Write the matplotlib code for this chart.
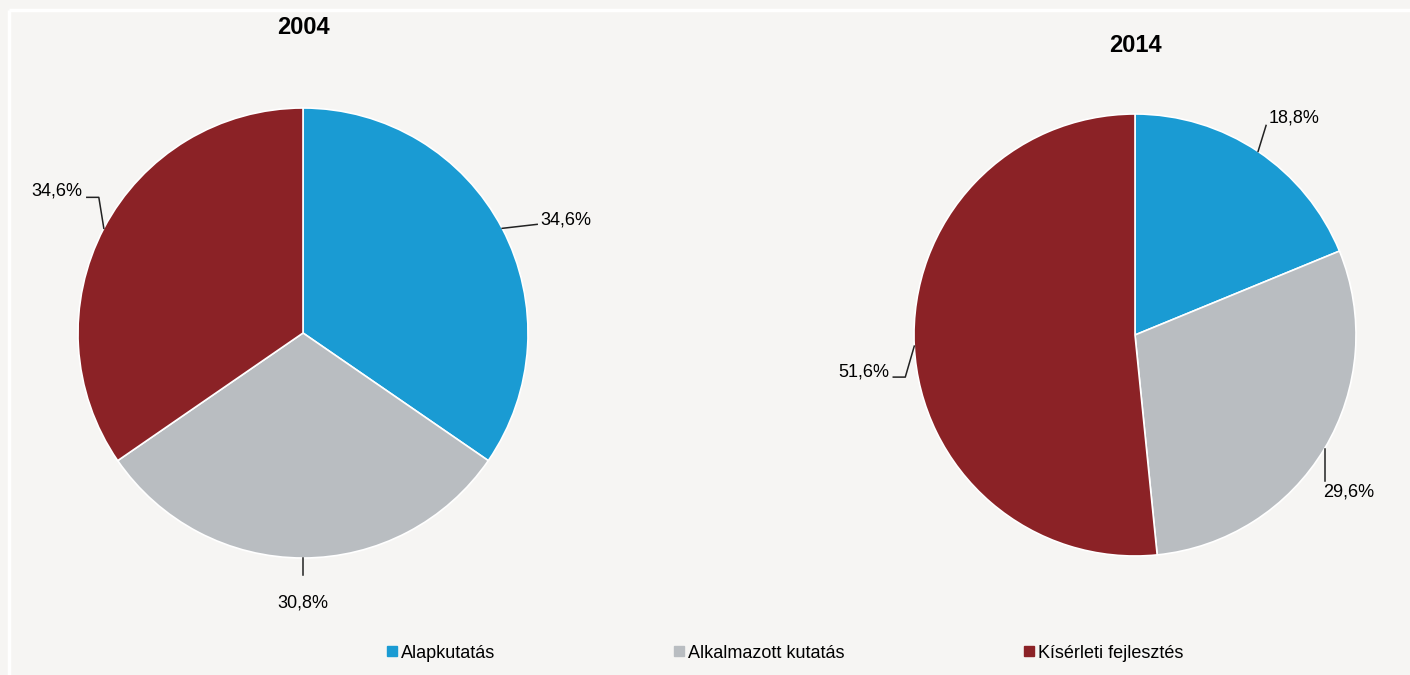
import numpy as np
import matplotlib.pyplot as plt
from matplotlib.lines import Line2D

# data
categories = ["Alapkutatás", "Alkalmazott kutatás", "Kísérleti fejlesztés"]
years = ["2004", "2014"]
shares_2004 = [34.6, 30.8, 34.6]
shares_2014 = [18.8, 29.6, 51.6]
colors = ["#1a9bd3", "#b9bdc1", "#8b2226"]
bg = "#f6f5f3"
font = ["Liberation Sans Narrow", "Liberation Sans", "DejaVu Sans"]

W, H = 1410, 675
fig = plt.figure(figsize=(W / 100, H / 100), dpi=100, facecolor=bg)
ax = fig.add_axes([0, 0, 1, 1])
ax.set_facecolor(bg)

# white frame lines (top and left)
ax.plot([9, W], [H - 10, H - 10], color="white", lw=2.5, solid_capstyle="butt")
ax.plot([9, 9], [0, H - 10], color="white", lw=2.5, solid_capstyle="butt")

def fmt(v):
    return f"{v:.1f}%".replace(".", ",")

# pie centers/radii in pixel coords (y up)
pies = [
    dict(vals=shares_2004, cx=303, cy=H - 333, r=225, title=years[0], ty=H - 27,
         # (elbow dx, elbow dy, end dx, end dy, align, text dy) per wedge, relative to edge point
         lab=[(35, 4, 0, 0, "left", 4), (0, -17, 0, 0, "center", -28), (-5, 31, -12, 0, "right", 6)]),
    dict(vals=shares_2014, cx=1135, cy=H - 335, r=221, title=years[1], ty=H - 45,
         lab=[(8, 26, 0, 0, "left", 7), (0, -32, 0, 0, "left_low", -11), (-9, -31, -12, 0, "right", 5)]),
]

for p in pies:
    ax.pie(p["vals"], colors=colors, startangle=90, counterclock=False,
           center=(p["cx"], p["cy"]), radius=p["r"],
           wedgeprops=dict(edgecolor="white", linewidth=1.2), frame=True)
    ax.text(p["cx"], p["ty"], p["title"], ha="center", va="center",
            fontsize=17, fontweight="bold", family=font)
    cum = np.cumsum([0] + p["vals"])
    for i, v in enumerate(p["vals"]):
        mid = 90 - (cum[i] + v / 2) * 3.6
        ex = p["cx"] + p["r"] * np.cos(np.radians(mid))
        ey = p["cy"] + p["r"] * np.sin(np.radians(mid))
        dx1, dy1, dx2, dy2, ha, tdy = p["lab"][i]
        x1, y1 = ex + dx1, ey + dy1
        x2, y2 = x1 + dx2, y1 + dy2
        ax.plot([ex, x1, x2], [ey, y1, y2], color="#222222", lw=1.1)
        if ha == "left":
            ax.text(x2 + 3, y2 + tdy, fmt(v), ha="left", va="center", fontsize=13, family=font)
        elif ha == "right":
            ax.text(x2 - 4, y2 + tdy, fmt(v), ha="right", va="center", fontsize=13, family=font)
        elif ha == "left_low":
            ax.text(x2 - 1, y2 + tdy, fmt(v), ha="left", va="center", fontsize=13, family=font)
        else:
            ax.text(x2, y2 + tdy, fmt(v), ha="center", va="center", fontsize=13, family=font)

ax.set_xlim(0, W)
ax.set_ylim(0, H)
ax.set_aspect("equal")
ax.axis("off")

handles = [Line2D([0], [0], marker="s", linestyle="none", markersize=7,
                  markerfacecolor=c, markeredgecolor=c) for c in colors]
leg = ax.legend(handles, categories, loc="center", bbox_to_anchor=(784 / W, (H - 653) / H),
                ncol=3, frameon=False, columnspacing=9.8, handletextpad=0.1,
                handlelength=0.8, prop=dict(family=font, size=13))

fig.savefig("out.png", dpi=100, facecolor=bg)
